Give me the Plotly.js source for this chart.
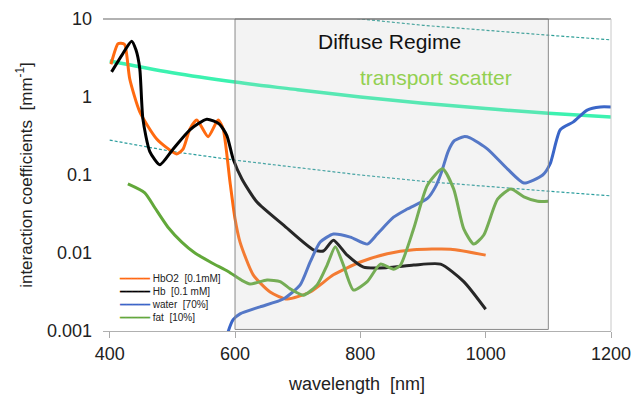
<!DOCTYPE html>
<html>
<head>
<meta charset="utf-8">
<script src="https://cdn.plot.ly/plotly-3.0.1.min.js"></script>
<style>html,body{margin:0;padding:0;background:#fff;}#chart{width:635px;height:401px;}</style>
</head>
<body>
<div id="chart"></div>
<script>
// HbO2 [0.1mM]
const hbo2Wl  = [402, 413, 418, 424, 432, 448, 475, 507, 517, 528, 539, 557, 573, 581, 592, 600, 608, 629, 656, 683, 720, 757, 800, 843, 885, 944, 1000];
const hbo2Val = [2.63, 4.8, 4.9, 4.7, 1.7, 0.645, 0.29, 0.186, 0.214, 0.39, 0.507, 0.31, 0.507, 0.39, 0.081, 0.0275, 0.0138, 0.00525, 0.00316, 0.00257, 0.00316, 0.00525, 0.00767, 0.00977, 0.011, 0.0112, 0.0094];
// Hb [0.1 mM]
const hbWl  = [403, 420, 435, 442, 448, 453, 464, 480, 501, 528, 555, 575, 587, 597, 611, 635, 677, 725, 741, 757, 779, 805, 843, 885, 928, 965, 1000];
const hbVal = [2.1, 3.5, 5.2, 4.0, 2.3, 0.52, 0.2, 0.135, 0.214, 0.38, 0.52, 0.45, 0.32, 0.16, 0.089, 0.045, 0.0229, 0.011, 0.0106, 0.0146, 0.0094, 0.0066, 0.0065, 0.007, 0.0072, 0.0043, 0.0019];
// water [70%]
const waterWl  = [580, 589, 597, 608, 640, 677, 704, 720, 736, 757, 784, 811, 827, 853, 875, 907, 920, 930, 940, 950, 965, 975, 1003, 1035, 1061, 1091, 1103, 1119, 1140, 1162, 1183, 1200];
const waterVal = [0.0005, 0.00098, 0.0014, 0.00166, 0.00204, 0.00257, 0.0039, 0.0077, 0.0138, 0.0175, 0.016, 0.013, 0.0175, 0.0288, 0.0366, 0.05, 0.071, 0.112, 0.2, 0.275, 0.31, 0.3, 0.215, 0.119, 0.079, 0.1, 0.14, 0.38, 0.48, 0.68, 0.745, 0.745];
// fat [10%]
const fatWl  = [429, 456, 472, 493, 515, 536, 564, 589, 610, 624, 651, 672, 688, 709, 731, 747, 760, 773, 789, 811, 832, 853, 864, 885, 907, 931, 949, 965, 981, 997, 1019, 1040, 1061, 1083, 1100];
const fatVal = [0.0767, 0.059, 0.038, 0.0214, 0.0138, 0.01, 0.0074, 0.0058, 0.0045, 0.004, 0.0045, 0.0043, 0.00347, 0.00288, 0.0039, 0.007, 0.012, 0.007, 0.00335, 0.0043, 0.0072, 0.0062, 0.007, 0.0204, 0.074, 0.12, 0.066, 0.0204, 0.013, 0.017, 0.049, 0.066, 0.0525, 0.046, 0.046];
// transport scatter and the dotted x10 / x0.1 companions
const scatWl    = [400, 500, 600, 700, 800, 900, 1000, 1100, 1200];
const scatVal   = [2.9, 2.05, 1.56, 1.24, 1.0, 0.83, 0.71, 0.62, 0.555];
const scatHiVal = [29, 20.5, 15.6, 12.4, 10.0, 8.3, 7.1, 6.2, 5.4];
const scatLoVal = [0.28, 0.2, 0.155, 0.125, 0.1, 0.083, 0.071, 0.062, 0.054];

const xTicks = [400, 600, 800, 1000, 1200];
const yTicks = [0.001, 0.01, 0.1, 1, 10];
const yTickText = ["0.001", "0.01", "0.1", "1", "10"];

const legendNames  = ["HbO2\u00a0\u00a0[0.1mM]", "Hb\u00a0\u00a0[0.1 mM]", "water\u00a0\u00a0[70%]", "fat\u00a0\u00a0[10%]"];
const legendColors = ["#ff6a10", "#000000", "#3a66c8", "#62a83a"];

const FONT = "Liberation Sans, Arial, sans-serif";
const sm = 0.6;

const traces = [
  {x: scatWl, y: scatHiVal, mode: "lines", line: {color: "#2a9d95", width: 1.2, dash: "3px,2px"}, showlegend: false, hoverinfo: "skip"},
  {x: scatWl, y: scatLoVal, mode: "lines", line: {color: "#2a9d9d", width: 1.2, dash: "3px,2px"}, showlegend: false, hoverinfo: "skip"},
  {x: scatWl, y: scatVal, mode: "lines", line: {color: "#3cf2b0", width: 3.5, shape: "spline"}, showlegend: false},
  {x: hbo2Wl, y: hbo2Val, mode: "lines", name: legendNames[0], line: {color: legendColors[0], width: 3, shape: "spline", smoothing: sm}},
  {x: hbWl, y: hbVal, mode: "lines", name: legendNames[1], line: {color: legendColors[1], width: 3, shape: "spline", smoothing: sm}},
  {x: waterWl, y: waterVal, mode: "lines", name: legendNames[2], line: {color: legendColors[2], width: 3, shape: "spline", smoothing: sm}},
  {x: fatWl, y: fatVal, mode: "lines", name: legendNames[3], line: {color: legendColors[3], width: 3, shape: "spline", smoothing: sm}}
];

const legendText = legendNames.map((n, i) =>
  "<span style='color:" + legendColors[i] + "'>\u2501\u2501\u2501\u2501\u2501</span> " + n).join("<br>");

const layout = {
  width: 635, height: 401,
  margin: {l: 103, r: 24, t: 19, b: 70},
  paper_bgcolor: "#ffffff", plot_bgcolor: "#ffffff",
  showlegend: false,
  font: {family: FONT, color: "#222"},
  xaxis: {
    range: [389.3, 1200], tickvals: xTicks, ticktext: xTicks.map(String),
    ticks: "outside", ticklen: 6, tickcolor: "#aaa", showline: true, linecolor: "#b0b0b0", linewidth: 1,
    showgrid: false, zeroline: false, tickfont: {size: 18, family: FONT, color: "#222"},
    title: {text: "wavelength\u00a0\u00a0[nm]", font: {size: 18, family: FONT, color: "#222"}, standoff: 14}
  },
  yaxis: {
    type: "log", range: [-3, 1], tickvals: yTicks, ticktext: yTickText,
    ticks: "", showline: false, showgrid: false, zeroline: false, ticklabelstandoff: 10,
    tickfont: {size: 18, family: FONT, color: "#222"},
    title: {text: "interaction coefficients\u00a0\u00a0[mm<sup>-1</sup>]", font: {size: 17, family: FONT, color: "#222"}, standoff: 10}
  },
  shapes: [
    {type: "rect", xref: "x", yref: "paper", x0: 600, x1: 1100, y0: 0.005, y1: 1, layer: "above",
     fillcolor: "rgba(195,195,195,0.2)", line: {color: "#8a8a8a", width: 1}},
    {type: "line", xref: "paper", yref: "paper", x0: 0, x1: 1, y0: 1, y1: 1, line: {color: "#666", width: 1.2}},
    {type: "line", xref: "paper", yref: "paper", x0: 1, x1: 1, y0: 0, y1: 1, line: {color: "#c8c8c8", width: 1}}
  ],
  annotations: [
    {text: "Diffuse Regime", xref: "x", yref: "paper", x: 847, y: 0.972, showarrow: false,
     font: {size: 21, family: FONT, color: "#111"}},
    {text: "transport scatter", xref: "x", yref: "paper", x: 921, y: 0.857, showarrow: false,
     font: {size: 21, family: FONT, color: "#92d050"}},
    {text: legendText, xref: "paper", yref: "paper", x: 0.027, y: 0.192, xanchor: "left", yanchor: "top",
     align: "left", showarrow: false, font: {size: 10, family: FONT, color: "#222"}}
  ]
};

Plotly.newPlot("chart", traces, layout, {displayModeBar: false, staticPlot: true});
</script>
</body>
</html>
